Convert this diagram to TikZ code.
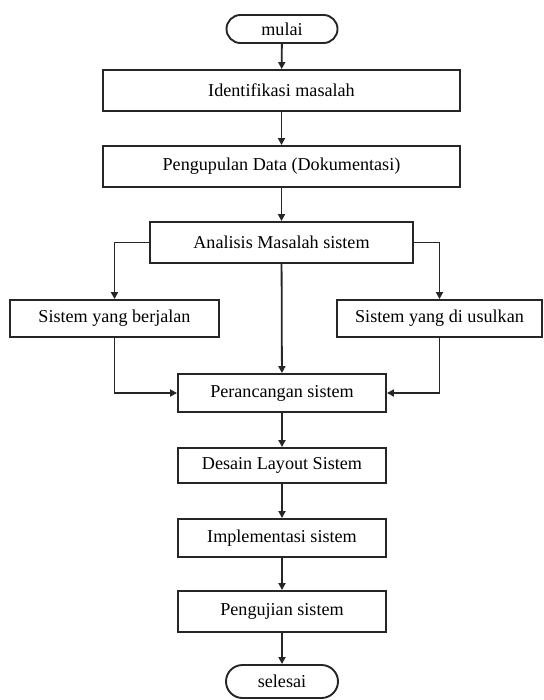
\documentclass[tikz,border=0pt]{standalone}
\usepackage{fontspec}
\setmainfont{Liberation Serif}
\usetikzlibrary{arrows.meta,shapes.misc}
\begin{document}
\begin{tikzpicture}[x=1bp,y=-1bp,
  every node/.style={font=\fontsize{18.2}{22}\selectfont, text=black},
  stepbox/.style={draw=black!85, line width=1.9bp, rectangle, inner sep=0pt},
  terminal/.style={draw=black!85, line width=1.9bp, rounded rectangle, inner sep=0pt},
  arr/.style={draw=black!85, line width=1.8bp, -{Triangle[length=7bp,width=7bp]}}]
\useasboundingbox (0,0) rectangle (544,700);
% terminals
\node[terminal, minimum width=111bp, minimum height=28bp] (mulai) at (282,29) {mulai};
\node[terminal, minimum width=112bp, minimum height=33bp] (selesai) at (282,681.5) {selesai};
% process steps
\node[stepbox, minimum width=357bp, minimum height=41bp] (ident) at (281.5,90.5) {Identifikasi masalah};
\node[stepbox, minimum width=357bp, minimum height=41bp] (kumpul) at (281.5,166.5) {Pengupulan Data (Dokumentasi)};
\node[stepbox, minimum width=263bp, minimum height=41bp] (anal) at (281.5,242.5) {Analisis Masalah sistem};
\node[stepbox, minimum width=209bp, minimum height=37bp] (jalan) at (114.5,318.5) {Sistem yang berjalan};
\node[stepbox, minimum width=205bp, minimum height=37bp] (usul) at (439.5,318.5) {Sistem yang di usulkan};
\node[stepbox, minimum width=208bp, minimum height=38bp] (rancang) at (282,393) {Perancangan sistem};
\node[stepbox, minimum width=208bp, minimum height=35bp] (desain) at (282,465.5) {Desain Layout Sistem};
\node[stepbox, minimum width=208bp, minimum height=38bp] (impl) at (282,538) {Implementasi sistem};
\node[stepbox, minimum width=208bp, minimum height=41bp] (uji) at (282,611.5) {Pengujian sistem};
% connectors
\draw[arr] (mulai) -- (ident);
\draw[arr] (ident) -- (kumpul);
\draw[arr] (kumpul) -- (anal);
\draw[arr] (anal.west) -| (jalan.north);
\draw[arr] (anal.east) -| (usul.north);
\draw[arr] (anal) -- (rancang);
\draw[arr] (jalan.south) |- (rancang.west);
\draw[arr] (usul.south) |- (rancang.east);
\draw[arr] (rancang) -- (desain);
\draw[arr] (desain) -- (impl);
\draw[arr] (impl) -- (uji);
\draw[arr] (uji) -- (selesai);
\end{tikzpicture}
\end{document}
